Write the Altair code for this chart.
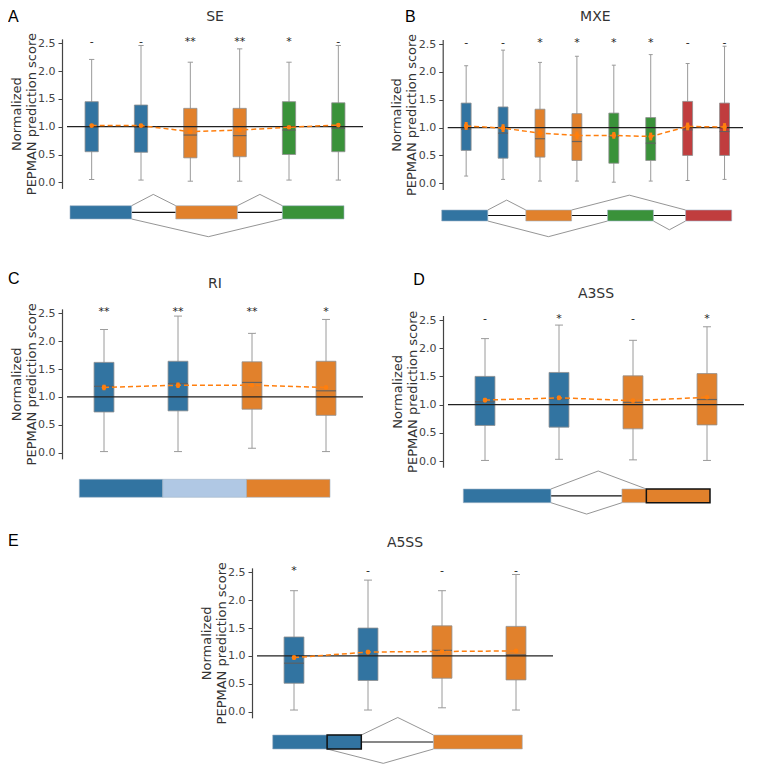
import altair as alt
import pandas as pd

M = 8  # page margin of the html page

BLUE = "#3274a1"
ORANGE = "#e1812c"
GREEN = "#3a923a"
RED = "#c03d3e"
LBLUE = "#b0c8e4"
MEANC = "#ff7f0e"
WHISK = "#9a9a9a"
MEDC = "#5f5f5f"
BOXEDGE = "#8f8f8f"

YMIN, YMAX = -0.11, 2.58
SIG_Y = 2.47
Y_TICKS = [0.0, 0.5, 1.0, 1.5, 2.0, 2.5]
Y_TITLE = ["Normalized", "PEPMAN prediction score"]

# ---------------- data: box statistics ----------------
SE_colors = [BLUE, BLUE, ORANGE, ORANGE, GREEN, GREEN]
SE_lo = [0.05, 0.04, 0.02, 0.02, 0.04, 0.04]
SE_q1 = [0.55, 0.54, 0.44, 0.46, 0.50, 0.55]
SE_med = [1.00, 0.99, 0.85, 0.84, 0.94, 0.97]
SE_q3 = [1.45, 1.39, 1.33, 1.33, 1.45, 1.43]
SE_hi = [2.21, 2.46, 2.16, 2.40, 2.16, 2.46]
SE_mean = [1.02, 1.02, 0.91, 0.94, 0.99, 1.03]
SE_ci = [0.03, 0.03, 0.02, 0.02, 0.02, 0.03]
SE_sig = ["-", "-", "**", "**", "*", "-"]

MXE_colors = [BLUE, BLUE, ORANGE, ORANGE, GREEN, GREEN, RED, RED]
MXE_lo = [0.13, 0.07, 0.04, 0.04, 0.02, 0.04, 0.05, 0.07]
MXE_q1 = [0.59, 0.45, 0.47, 0.41, 0.36, 0.41, 0.50, 0.50]
MXE_med = [0.97, 0.90, 0.80, 0.75, 0.84, 0.72, 0.96, 0.93]
MXE_q3 = [1.44, 1.37, 1.33, 1.25, 1.26, 1.18, 1.47, 1.44]
MXE_hi = [2.11, 2.39, 2.17, 2.28, 2.12, 2.31, 2.15, 2.46]
MXE_mean = [1.03, 0.99, 0.90, 0.86, 0.86, 0.84, 1.02, 1.01]
MXE_ci = [0.07, 0.07, 0.06, 0.07, 0.06, 0.07, 0.07, 0.07]
MXE_sig = ["-", "-", "*", "*", "*", "*", "-", "-"]

RI_colors = [BLUE, BLUE, ORANGE, ORANGE]
RI_lo = [0.02, 0.02, 0.08, 0.02]
RI_q1 = [0.73, 0.75, 0.78, 0.67]
RI_med = [1.19, 1.24, 1.26, 1.11]
RI_q3 = [1.62, 1.64, 1.63, 1.64]
RI_hi = [2.21, 2.45, 2.14, 2.39]
RI_mean = [1.17, 1.21, 1.21, 1.17]
RI_ci = [0.05, 0.05, 0.02, 0.02]
RI_sig = ["**", "**", "**", "*"]

A3_colors = [BLUE, BLUE, ORANGE, ORANGE]
A3_lo = [0.01, 0.03, 0.02, 0.01]
A3_q1 = [0.63, 0.60, 0.57, 0.64]
A3_med = [1.05, 1.10, 1.04, 1.09]
A3_q3 = [1.50, 1.57, 1.51, 1.55]
A3_hi = [2.17, 2.41, 2.14, 2.38]
A3_mean = [1.08, 1.12, 1.07, 1.13]
A3_ci = [0.04, 0.04, 0.01, 0.01]
A3_sig = ["-", "*", "-", "*"]

A5_colors = [BLUE, BLUE, ORANGE, ORANGE]
A5_lo = [0.03, 0.03, 0.07, 0.03]
A5_q1 = [0.51, 0.56, 0.60, 0.57]
A5_med = [0.87, 1.01, 1.10, 1.02]
A5_q3 = [1.34, 1.50, 1.54, 1.53]
A5_hi = [2.17, 2.36, 2.17, 2.46]
A5_mean = [0.97, 1.07, 1.08, 1.09]
A5_ci = [0.04, 0.04, 0.01, 0.01]
A5_sig = ["*", "-", "-", "-"]

# ---------------- data: splicing diagrams (units 0..100 along, -1..1 exon height) -------
SE_ex_start = [0, 38.6, 77.5]
SE_ex_end = [22.5, 61.1, 100]
SE_ex_col = [BLUE, ORANGE, GREEN]
SE_ex_boxed = [False, False, False]
SE_introns = [(22.5, 38.6), (61.1, 77.5)]
SE_links = [[(22.5, 1), (30.4, 2.7), (38.6, 1)],
            [(61.1, 1), (69.3, 2.7), (77.5, 1)],
            [(22.5, -1), (50.5, -3.66), (77.5, -1)]]

MXE_ex_start = [0, 29.0, 57.2, 84.1]
MXE_ex_end = [15.9, 44.8, 73.0, 100]
MXE_ex_col = [BLUE, ORANGE, GREEN, RED]
MXE_ex_boxed = [False, False, False, False]
MXE_introns = [(15.9, 29.0), (44.8, 57.2), (73.0, 84.1)]
MXE_links = [[(15.9, 1), (22.4, 2.8), (29.0, 1)],
             [(44.8, 1), (64.7, 3.7), (84.1, 1)],
             [(15.9, -1), (36.8, -3.85), (57.2, -1)],
             [(73.0, -1), (78.5, -2.6), (84.1, -1)]]

RI_ex_start = [0, 33.3, 66.7]
RI_ex_end = [33.3, 66.7, 100]
RI_ex_col = [BLUE, LBLUE, ORANGE]
RI_ex_boxed = [False, False, False]
RI_introns = []
RI_links = []

A3_ex_start = [0, 64.3, 74.2]
A3_ex_end = [35.5, 74.2, 100]
A3_ex_col = [BLUE, ORANGE, ORANGE]
A3_ex_boxed = [False, False, True]
A3_introns = [(35.5, 64.3)]
A3_links = [[(35.5, 1), (54.7, 3.63), (74.2, 1)],
            [(35.5, -1), (50.0, -2.66), (64.3, -1)]]

A5_ex_start = [0, 21.8, 64.4]
A5_ex_end = [35.5, 35.5, 100]
A5_ex_col = [BLUE, BLUE, ORANGE]
A5_ex_boxed = [False, True, False]
A5_introns = [(35.5, 64.4)]
A5_links = [[(35.5, 1), (50.1, 3.5), (64.4, 1)],
            [(21.8, -1), (44.3, -3.05), (64.4, -1)]]

# ---------------- layout (reference-page pixels) ----------------
LAYOUT = {
    "SE": dict(letter="A", x0=62, x1=368, y0=182.3, y25=43.3, tb=21, lx=8, lb=22,
               dx0=70, dx1=344, dyt=205.7, dyb=219),
    "MXE": dict(letter="B", x0=442.7, x1=748, y0=183.3, y25=44, tb=21, lx=405, lb=22,
                dx0=441.7, dx1=731.7, dyt=210, dyb=221),
    "RI": dict(letter="C", x0=62, x1=368, y0=452.7, y25=313.3, tb=288.3, lx=8, lb=284.3,
               dx0=79.3, dx1=330, dyt=479.3, dyb=497.3),
    "A3SS": dict(letter="D", x0=443, x1=749, y0=461, y25=320, tb=297.7, lx=413.3, lb=285,
                 dx0=463.3, dx1=710, dyt=489, dyb=502.7),
    "A5SS": dict(letter="E", x0=252, x1=558, y0=711.7, y25=572.3, tb=547.3, lx=8, lb=546,
                 dx0=272.7, dx1=522.3, dyt=735, dyb=749),
}


def panel(name, colors, lo, q1, med, q3, hi, mean, ci, sig):
    L = LAYOUT[name]
    n = len(colors)

    def ypix(v):
        return L["y0"] + (L["y25"] - L["y0"]) * v / 2.5 - M

    df = pd.DataFrame({
        "i": list(range(n)), "lo": lo, "q1": q1, "med": med, "q3": q3, "hi": hi,
        "mean": mean, "mlo": [m - c for m, c in zip(mean, ci)],
        "mhi": [m + c for m, c in zip(mean, ci)], "col": colors, "sig": sig,
        "sy": [SIG_Y] * n,
    })
    spacing = (L["x1"] - L["x0"]) / n
    bw = 0.26 * spacing
    xs = alt.Scale(domain=[-0.5, n - 0.5], range=[L["x0"] - M, L["x1"] - M], nice=False, zero=False)
    ys = alt.Scale(domain=[YMIN, YMAX], range=[ypix(YMIN), ypix(YMAX)], nice=False, zero=False)
    yax = alt.Axis(orient="left", offset=-(L["x0"] - M), values=Y_TICKS, format=".1f",
                   title=Y_TITLE, titleFont="DejaVu Sans", titleFontSize=13,
                   titleFontWeight="normal", titleColor="#333333",
                   titleX=-39, titleY=(ypix(YMIN) + ypix(YMAX)) / 2,
                   titleAngle=270, titleBaseline="bottom", titleAlign="center",
                   labelFont="DejaVu Sans", labelFontSize=11, labelColor="#444444",
                   labelPadding=3, tickSize=4, tickColor="#444444", tickWidth=1,
                   domainColor="#444444", domainWidth=1.2, grid=False)

    def X(f):
        return alt.X(f, type="quantitative", scale=xs, axis=None)

    def Y(f):
        return alt.Y(f, type="quantitative", scale=ys, axis=yax)

    base = alt.Chart(df)
    whisk = base.mark_rule(color=WHISK, strokeWidth=1).encode(x=X("i"), y=Y("lo"), y2=alt.Y2("hi"))
    cap_lo = base.mark_tick(orient="horizontal", size=bw * 0.4, thickness=1, color=WHISK, opacity=1).encode(
        x=X("i"), y=Y("lo"))
    cap_hi = base.mark_tick(orient="horizontal", size=bw * 0.4, thickness=1, color=WHISK, opacity=1).encode(
        x=X("i"), y=Y("hi"))
    box = base.mark_bar(size=bw, stroke=BOXEDGE, strokeWidth=0.8).encode(
        x=X("i"), y=Y("q1"), y2=alt.Y2("q3"), color=alt.Color("col:N", scale=None))
    medl = base.mark_tick(orient="horizontal", size=bw, thickness=1.2, color=MEDC, opacity=0.9).encode(
        x=X("i"), y=Y("med"))
    ref = alt.Chart(pd.DataFrame({"xa": [-0.5], "xb": [n - 0.5], "y": [1.0]})).mark_rule(
        color="#222222", strokeWidth=1.2).encode(x=X("xa"), x2=alt.X2("xb"), y=Y("y"))
    mline = base.mark_line(color=MEANC, strokeDash=[5, 3], strokeWidth=1.5).encode(x=X("i"), y=Y("mean"))
    merr = base.mark_rule(color=MEANC, strokeWidth=3).encode(x=X("i"), y=Y("mlo"), y2=alt.Y2("mhi"))
    mpt = base.mark_circle(color=MEANC, size=22, opacity=1).encode(x=X("i"), y=Y("mean"))
    sigt = base.mark_text(font="DejaVu Sans", fontSize=11, color="#222222", baseline="alphabetic").encode(
        x=X("i"), y=Y("sy"), text="sig:N")
    title = alt.Chart(pd.DataFrame({"tx": [(n - 1) / 2], "t": [name]})).mark_text(
        font="DejaVu Sans", fontSize=14, color="#333333", baseline="alphabetic").encode(
        x=X("tx"), y=alt.value(L["tb"] - M), text="t:N")
    letter = alt.Chart(pd.DataFrame({"t": [L["letter"]]})).mark_text(
        font="Liberation Sans", fontSize=16, color="#000000", align="left", baseline="alphabetic").encode(
        x=alt.value(L["lx"] - M), y=alt.value(L["lb"] - M), text="t:N")
    return alt.layer(whisk, cap_lo, cap_hi, box, medl, ref, mline, merr, mpt, sigt, title, letter)


def diagram(name, ex_s, ex_e, ex_c, boxed, introns, links):
    L = LAYOUT[name]
    xs = alt.Scale(domain=[0, 100], range=[L["dx0"] - M, L["dx1"] - M], nice=False, zero=False)
    ys = alt.Scale(domain=[-1, 1], range=[L["dyb"] - M, L["dyt"] - M], nice=False, zero=False)

    def X(f):
        return alt.X(f, type="quantitative", scale=xs, axis=None)

    def Y(f):
        return alt.Y(f, type="quantitative", scale=ys, axis=None)

    ex = pd.DataFrame({"s": ex_s, "e": ex_e, "c": ex_c, "boxed": boxed,
                       "yb": [-1] * len(ex_s), "yt": [1] * len(ex_s)})
    layers = []
    if introns:
        intr = pd.DataFrame({"s": [a for a, b in introns], "e": [b for a, b in introns],
                             "y": [0] * len(introns)})
        layers.append(alt.Chart(intr).mark_rule(color="#111111", strokeWidth=1.2).encode(
            x=X("s"), x2=alt.X2("e"), y=Y("y")))
    if links:
        rows = []
        for g, pts in enumerate(links):
            for k, (px, py) in enumerate(pts):
                rows.append({"g": g, "k": k, "x": px, "y": py})
        layers.append(alt.Chart(pd.DataFrame(rows)).mark_line(color="#7a7a7a", strokeWidth=0.8).encode(
            x=X("x"), y=Y("y"), detail="g:N", order="k:Q"))
    plain = ex[~ex["boxed"]]
    layers.append(alt.Chart(plain).mark_rect(stroke="#9fb4c6", strokeWidth=0.6).encode(
        x=X("s"), x2=alt.X2("e"), y=Y("yb"), y2=alt.Y2("yt"), color=alt.Color("c:N", scale=None)))
    bx = ex[ex["boxed"]]
    if len(bx):
        layers.append(alt.Chart(bx).mark_rect(stroke="#111111", strokeWidth=1.5).encode(
            x=X("s"), x2=alt.X2("e"), y=Y("yb"), y2=alt.Y2("yt"), color=alt.Color("c:N", scale=None)))
    return alt.layer(*layers)


charts = [
    panel("SE", SE_colors, SE_lo, SE_q1, SE_med, SE_q3, SE_hi, SE_mean, SE_ci, SE_sig),
    diagram("SE", SE_ex_start, SE_ex_end, SE_ex_col, SE_ex_boxed, SE_introns, SE_links),
    panel("MXE", MXE_colors, MXE_lo, MXE_q1, MXE_med, MXE_q3, MXE_hi, MXE_mean, MXE_ci, MXE_sig),
    diagram("MXE", MXE_ex_start, MXE_ex_end, MXE_ex_col, MXE_ex_boxed, MXE_introns, MXE_links),
    panel("RI", RI_colors, RI_lo, RI_q1, RI_med, RI_q3, RI_hi, RI_mean, RI_ci, RI_sig),
    diagram("RI", RI_ex_start, RI_ex_end, RI_ex_col, RI_ex_boxed, RI_introns, RI_links),
    panel("A3SS", A3_colors, A3_lo, A3_q1, A3_med, A3_q3, A3_hi, A3_mean, A3_ci, A3_sig),
    diagram("A3SS", A3_ex_start, A3_ex_end, A3_ex_col, A3_ex_boxed, A3_introns, A3_links),
    panel("A5SS", A5_colors, A5_lo, A5_q1, A5_med, A5_q3, A5_hi, A5_mean, A5_ci, A5_sig),
    diagram("A5SS", A5_ex_start, A5_ex_end, A5_ex_col, A5_ex_boxed, A5_introns, A5_links),
]

chart = alt.layer(*charts).resolve_scale(x="independent", y="independent").properties(
    width=741, height=756, padding=0, autosize=alt.AutoSizeParams(type="none"),
    background="white",
).configure_view(stroke=None)

chart.save("out.html", embed_options={"renderer": "svg", "actions": False})
